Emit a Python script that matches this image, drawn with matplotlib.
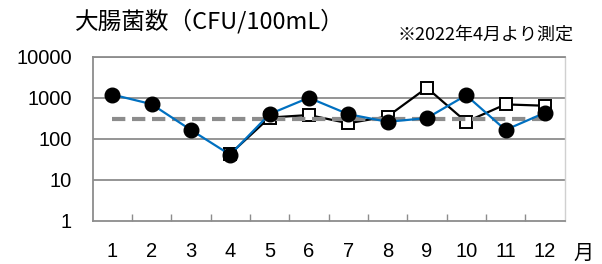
import numpy as np
import matplotlib
matplotlib.use("Agg")
import matplotlib.pyplot as plt

plt.rcParams['font.family'] = ['Liberation Sans', 'Noto Sans CJK JP', 'DejaVu Sans']

# Data
months = np.arange(1, 13)
month_labels = [str(m) for m in months]
series_a = [1200, 700, 165, 41, 400, 1000, 400, 260, 320, 1150, 165, 430]
series_b = [np.nan, np.nan, np.nan, 43, 330, 380, 240, 350, 1750, 260, 690, 640]
reference_level = 300
y_ticks = [1, 10, 100, 1000, 10000]
y_labels = ["1", "10", "100", "1000", "10000"]

W, H = 602, 264
fig = plt.figure(figsize=(W / 100, H / 100), dpi=100)
left, right, top, bottom = 92.5, 564.5, 56.7, 221.0
ax = fig.add_axes([left / W, 1 - bottom / H, (right - left) / W, (bottom - top) / H])

# series with open squares (from April)
ax.plot(months, series_b, color="black", lw=1.6, marker="s", ms=8,
        mfc="white", mec="black", mew=1.4, zorder=3)
# dashed reference line
ax.plot([months[0], months[-1]], [reference_level, reference_level],
        color="#8c8c8c", lw=3, ls=(0, (3.2, 1.6)), zorder=4)
# series with filled circles
ax.plot(months, series_a, color="#0070C0", lw=1.6, marker="o", ms=10.5,
        mfc="black", mec="black", zorder=5)

ax.set_yscale("log")
ax.set_ylim(1, 10000)
ax.set_xlim(0.5, 12.5)

ax.yaxis.set_minor_locator(matplotlib.ticker.NullLocator())
ax.set_yticks(y_ticks)
ax.set_yticklabels(y_labels, fontsize=14.5)
ax.tick_params(axis="y", length=0, pad=15)
for yv in y_ticks[1:]:
    ax.axhline(yv, color="#8c8c8c", lw=1.3, zorder=1)

ax.set_xticks(months)
ax.set_xticklabels(month_labels, fontsize=14.5)
ax.tick_params(axis="x", which="major", length=0, pad=15)
ax.set_xticks(np.arange(1.5, 12.5, 1), minor=True)
ax.tick_params(axis="x", which="minor", direction="in", length=5,
               width=1, color="#8c8c8c")

ax.spines["left"].set_color("#8c8c8c")
ax.spines["left"].set_linewidth(1.3)
ax.spines["bottom"].set_color("#8c8c8c")
ax.spines["bottom"].set_linewidth(1.3)
ax.spines["top"].set_color("#8c8c8c")
ax.spines["top"].set_linewidth(1.3)
ax.spines["right"].set_color("#d0d0d0")
ax.spines["right"].set_linewidth(1.0)

fig.text(210 / W, 1 - 21 / H, "大腸菌数（CFU/100mL）", fontsize=17,
         family=['Noto Sans CJK JP'], ha="center", va="center")
fig.text(485 / W, 1 - 35 / H, "※2022年4月より測定", fontsize=13,
         family=['Noto Sans CJK JP'], ha="center", va="center")
fig.text(584 / W, 1 - 253 / H, "月", fontsize=14.5,
         family=['Noto Sans CJK JP'], ha="center", va="center")

fig.savefig("out.png", dpi=100)
